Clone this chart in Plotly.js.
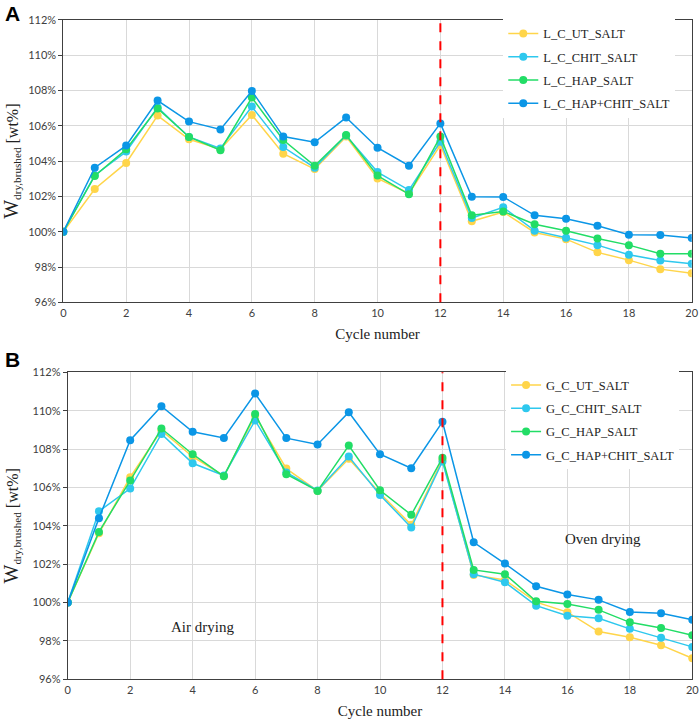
<!DOCTYPE html>
<html>
<head>
<meta charset="utf-8">
<script src="https://cdn.plot.ly/plotly-3.0.1.min.js"></script>
<style>html,body{margin:0;padding:0;background:#fff}#chart{width:699px;height:726px}</style>
</head>
<body>
<div id="chart"></div>
<script>
const cycles = [0,1,2,3,4,5,6,7,8,9,10,11,12,13,14,15,16,17,18,19,20];

const namesA = ["L_C_UT_SALT","L_C_CHIT_SALT","L_C_HAP_SALT","L_C_HAP+CHIT_SALT"];
const L_UT   = [100,102.42,103.90,106.58,105.24,104.68,106.62,104.42,103.55,105.39,103.02,102.17,104.91,100.59,101.12,99.96,99.58,98.83,98.39,97.88,97.64];
const L_CHIT = [100,103.20,104.54,107.05,105.37,104.72,107.09,104.80,103.63,105.45,103.38,102.36,105.10,100.78,101.38,100.06,99.66,99.24,98.70,98.37,98.19];
const L_HAP  = [100,103.16,104.67,106.99,105.37,104.62,107.60,105.20,103.74,105.48,103.18,102.12,105.39,100.93,101.15,100.42,100.06,99.62,99.24,98.75,98.75];
const L_BOTH = [100,103.63,104.88,107.43,106.24,105.80,107.98,105.39,105.07,106.47,104.76,103.74,106.14,101.98,101.97,100.93,100.74,100.34,99.83,99.81,99.64];

const namesB = ["G_C_UT_SALT","G_C_CHIT_SALT","G_C_HAP_SALT","G_C_HAP+CHIT_SALT"];
const G_UT   = [100,103.61,106.53,108.97,107.60,106.60,109.73,106.98,105.82,107.49,105.70,104.05,107.44,101.44,101.18,100.02,99.50,98.49,98.19,97.78,97.10];
const G_CHIT = [100,104.76,105.94,108.79,107.26,106.62,109.49,106.78,105.84,107.61,105.61,103.91,107.35,101.48,101.06,99.84,99.31,99.18,98.63,98.16,97.69];
const G_HAP  = [100,103.68,106.36,109.07,107.73,106.58,109.83,106.69,105.82,108.18,105.85,104.57,107.54,101.70,101.48,100.07,99.93,99.62,98.97,98.68,98.30];
const G_BOTH = [100,104.40,108.46,110.23,108.90,108.58,110.89,108.57,108.24,109.92,107.73,107.00,109.42,103.14,102.03,100.85,100.42,100.14,99.51,99.44,99.10];

const colors = ["#FFD54A","#2EC8EE","#22DD66","#0B96E6"];
const yTicks = [96,98,100,102,104,106,108,110,112];
const yTickLabels = ["96%","98%","100%","102%","104%","106%","108%","110%","112%"];
const xTicks = [0,2,4,6,8,10,12,14,16,18,20];

const serif = "Liberation Serif, DejaVu Serif, serif";
const sans = "Lato, Open Sans, Liberation Sans, sans-serif";

function mk(y, name, i, xa, ya, leg) {
  return {x: cycles, y: y, name: name, type: 'scatter', mode: 'lines+markers',
    xaxis: xa, yaxis: ya, legend: leg, legendgroup: leg + i,
    line: {color: colors[i], width: 1.5},
    marker: {color: colors[i], size: 8}};
}

const data = [
  mk(L_UT, namesA[0], 0, 'x', 'y', 'legend'),
  mk(L_CHIT, namesA[1], 1, 'x', 'y', 'legend'),
  mk(L_HAP, namesA[2], 2, 'x', 'y', 'legend'),
  mk(L_BOTH, namesA[3], 3, 'x', 'y', 'legend'),
  mk(G_UT, namesB[0], 0, 'x2', 'y2', 'legend2'),
  mk(G_CHIT, namesB[1], 1, 'x2', 'y2', 'legend2'),
  mk(G_HAP, namesB[2], 2, 'x2', 'y2', 'legend2'),
  mk(G_BOTH, namesB[3], 3, 'x2', 'y2', 'legend2')
];

function xax(dom, anchor) {
  return {domain: dom, anchor: anchor, range: [0,20], tickmode: 'array', tickvals: xTicks, ticks: '',
    ticklabeloverflow: 'allow',
    showgrid: true, gridcolor: '#d9d9d9', gridwidth: 1, zeroline: false,
    showline: true, linecolor: '#404040', linewidth: 1, mirror: true,
    tickfont: {family: sans, size: 11, color: '#404040'},
    title: {text: 'Cycle number', font: {family: serif, size: 15, color: '#222'}, standoff: 10}};
}
function yax(dom, anchor) {
  return {domain: dom, anchor: anchor, range: [96,112], tickmode: 'array', tickvals: yTicks, ticktext: yTickLabels,
    ticks: 'outside', ticklen: 4, tickcolor: '#404040',
    showgrid: true, gridcolor: '#d9d9d9', gridwidth: 1, zeroline: false,
    showline: true, linecolor: '#404040', linewidth: 1, mirror: true,
    tickfont: {family: sans, size: 11, color: '#404040'},
    title: {text: '<span style="font-size:20px">W</span><sub>dry,brushed</sub> [wt%]', font: {family: serif, size: 16, color: '#222'}, standoff: 10}};
}

const legendBase = {bgcolor: 'rgba(255,255,255,1)', borderwidth: 0, xanchor: 'left', yanchor: 'top',
  font: {family: serif, size: 12.5, color: '#222'}, traceorder: 'grouped', tracegroupgap: 4};

const layout = {
  width: 699, height: 726,
  margin: {l: 0, r: 0, t: 0, b: 0},
  paper_bgcolor: '#fff', plot_bgcolor: '#fff',
  showlegend: true,
  xaxis: xax([0.0906, 0.9896], 'y'),
  yaxis: yax([0.5836, 0.9725], 'x'),
  xaxis2: xax([0.0969, 0.9904], 'y2'),
  yaxis2: yax([0.0643, 0.4872], 'x2'),
  legend: Object.assign({}, legendBase, {x: 0.72, y: 0.974}),
  legend2: Object.assign({}, legendBase, {x: 0.724, y: 0.49}),
  shapes: [
    {type: 'line', xref: 'x', yref: 'y domain', x0: 12, x1: 12, y0: 0, y1: 1,
     line: {color: '#FF0000', width: 2, dash: 'dash'}},
    {type: 'line', xref: 'x2', yref: 'y2 domain', x0: 12, x1: 12, y0: 0, y1: 1,
     line: {color: '#FF0000', width: 2, dash: 'dash'}}
  ],
  annotations: [
    {text: '<b>A</b>', xref: 'paper', yref: 'paper', x: 0.005, y: 1.0, xanchor: 'left', yanchor: 'top',
     showarrow: false, font: {family: 'Liberation Sans, Arial, sans-serif', size: 21, color: '#000'}},
    {text: '<b>B</b>', xref: 'paper', yref: 'paper', x: 0.005, y: 0.524, xanchor: 'left', yanchor: 'top',
     showarrow: false, font: {family: 'Liberation Sans, Arial, sans-serif', size: 21, color: '#000'}},
    {text: 'Air drying', xref: 'x2', yref: 'y2', x: 4.33, y: 98.75, showarrow: false,
     font: {family: serif, size: 15, color: '#222'}},
    {text: 'Oven drying', xref: 'x2', yref: 'y2', x: 17.14, y: 103.32, showarrow: false,
     font: {family: serif, size: 15, color: '#222'}}
  ]
};

Plotly.newPlot('chart', data, layout, {displayModeBar: false, staticPlot: true});
</script>
</body>
</html>
